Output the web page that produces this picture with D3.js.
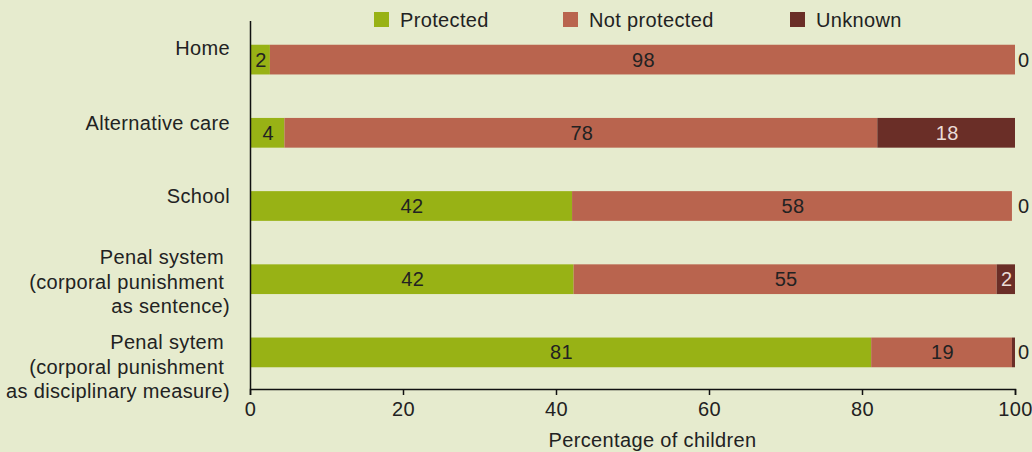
<!DOCTYPE html>
<html>
<head>
<meta charset="utf-8">
<script src="https://cdn.jsdelivr.net/npm/d3@7"></script>
<style>
  body { margin: 0; background: #e6ebce; }
  svg { display: block; font-family: "Liberation Sans", Arial, sans-serif; letter-spacing: 0.35px; }
</style>
</head>
<body>
<div id="wrapper"></div>
<script>
// categories, each as lines of the label
const categories = ["Home", "Alternative care", "School", "Penal system", "Penal sytem"];
const categoryLines = [
    ["Home"],
    ["Alternative care"],
    ["School"],
    ["Penal system ", "(corporal punishment ", "as sentence)"],
    ["Penal sytem ", "(corporal punishment ", "as disciplinary measure)"]
];
const seriesNames = ["Protected", "Not protected", "Unknown"];
const seriesColors = ["#98b215", "#b9644e", "#6a2e27"];

// bar lengths as drawn (percent)
const protectedVals = [2.6, 4.5, 42.1, 42.3, 81.2];
const notProtectedVals = [97.4, 77.5, 57.5, 55.3, 18.4];
const unknownVals = [0, 18.0, 0, 2.4, 0.4];

// printed labels
const protectedLabels = ["2", "4", "42", "42", "81"];
const notProtectedLabels = ["98", "78", "58", "55", "19"];
const unknownLabels = ["0", "18", "0", "2", "0"];

const xTicks = [0, 20, 40, 60, 80, 100];

async function drawBars() {
    const dimentions = {
        width: 1032,
        height: 452,
        margin: { top: 22, right: 17, bottom: 64, left: 250 }
    };
    dimentions.boundedWidth = dimentions.width - dimentions.margin.left - dimentions.margin.right;
    dimentions.boundedHeight = dimentions.height - dimentions.margin.top - dimentions.margin.bottom;

    const wrapper = d3.select("#wrapper")
        .append("svg")
        .attr("width", dimentions.width)
        .attr("height", dimentions.height);

    wrapper.append("rect")
        .attr("width", dimentions.width)
        .attr("height", dimentions.height)
        .attr("fill", "#e6ebce");

    const bounds = wrapper.append("g")
        .attr("transform", `translate(${dimentions.margin.left},${dimentions.margin.top})`);

    const xScale = d3.scaleLinear()
        .domain([0, 100])
        .range([0, dimentions.boundedWidth]);

    const yScale = d3.scaleBand()
        .domain(categories)
        .range([0, dimentions.boundedHeight])
        .paddingInner(0.594)
        .paddingOuter(0.297);

    const rows = categories.map((c, i) => ({
        category: c,
        Protected: protectedVals[i],
        "Not protected": notProtectedVals[i],
        Unknown: unknownVals[i],
        labels: [protectedLabels[i], notProtectedLabels[i], unknownLabels[i]]
    }));

    const stacked = d3.stack().keys(seriesNames)(rows);

    const layers = bounds.selectAll("g.layer")
        .data(stacked)
        .join("g")
        .attr("class", "layer")
        .attr("fill", (d, i) => seriesColors[i]);

    layers.selectAll("rect")
        .data(d => d)
        .join("rect")
        .attr("x", d => xScale(d[0]))
        .attr("y", d => yScale(d.data.category) + 1)
        .attr("width", d => xScale(d[1]) - xScale(d[0]))
        .attr("height", yScale.bandwidth());

    // value labels
    stacked.forEach((layer, si) => {
        bounds.append("g")
            .selectAll("text")
            .data(layer)
            .join("text")
            .attr("x", d => {
                const w = d[1] - d[0];
                if (w < 1) return xScale(100) + 3;
                return xScale((d[0] + d[1]) / 2) + 1;
            })
            .attr("y", d => yScale(d.data.category) + yScale.bandwidth() / 2 + 8)
            .attr("text-anchor", d => (d[1] - d[0]) < 1 ? "start" : "middle")
            .attr("font-size", 20)
            .attr("fill", d => (si === 2 && (d[1] - d[0]) >= 1) ? "#eadcd6" : "#222")
            .text(d => d.data.labels[si]);
    });

    // category labels
    const labelShift = [-2, 0, 0, -12, 0];
    const labelG = bounds.append("g");
    categories.forEach((c, i) => {
        const t = labelG.append("text")
            .attr("text-anchor", "end")
            .attr("font-size", 20)
            .attr("fill", "#222")
            .style("white-space", "pre")
            .attr("y", yScale(c) + yScale.bandwidth() / 2 - 2 + labelShift[i]);
        categoryLines[i].forEach((line, li) => {
            t.append("tspan")
                .attr("x", -20)
                .attr("dy", li === 0 ? 0 : 24.5)
                .text(line);
        });
    });

    // axes
    const xAxisGenerator = d3.axisBottom(xScale)
        .tickValues(xTicks)
        .tickSizeOuter(0)
        .tickSize(6)
        .tickPadding(7);

    const xAxis = bounds.append("g")
        .attr("transform", `translate(0,${dimentions.boundedHeight + 1})`)
        .call(xAxisGenerator);
    xAxis.select(".domain").attr("stroke", "#111").attr("stroke-width", 1.5);
    xAxis.selectAll(".tick line").attr("stroke", "#111").attr("stroke-width", 1.5);
    xAxis.selectAll(".tick text")
        .attr("font-size", 20)
        .attr("font-family", "Liberation Sans, Arial, sans-serif")
        .attr("fill", "#222");

    bounds.append("line")
        .attr("x1", 0.5).attr("x2", 0.5)
        .attr("y1", -1).attr("y2", dimentions.boundedHeight + 1)
        .attr("stroke", "#111")
        .attr("stroke-width", 1.5);

    bounds.append("text")
        .attr("x", dimentions.boundedWidth / 2 + 20)
        .attr("y", dimentions.boundedHeight + 59)
        .attr("text-anchor", "middle")
        .attr("font-size", 20)
        .attr("fill", "#222")
        .text("Percentage of children");

    // legend
    const legendX = [374, 563, 790];
    const legend = wrapper.append("g");
    seriesNames.forEach((s, i) => {
        legend.append("rect")
            .attr("x", legendX[i]).attr("y", 12)
            .attr("width", 15).attr("height", 15)
            .attr("fill", seriesColors[i]);
        legend.append("text")
            .attr("x", legendX[i] + 26)
            .attr("y", 27)
            .attr("font-size", 20)
            .attr("fill", "#222")
            .text(s);
    });
}

drawBars();
</script>
</body>
</html>
